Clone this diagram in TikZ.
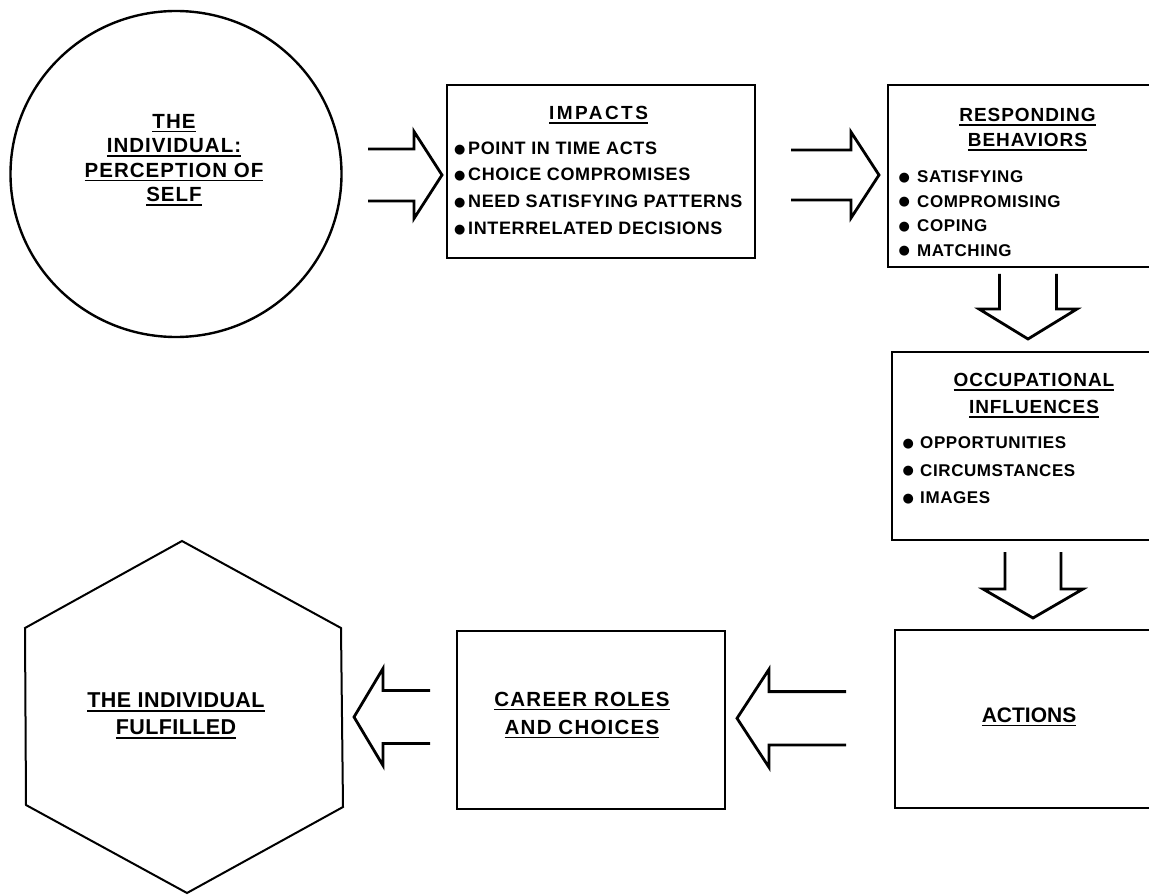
\documentclass[tikz,border=0pt]{standalone}
\usepackage{fontspec}
\setmainfont{Liberation Sans}
\newfontfamily\titlefont[LetterSpace=5]{Liberation Sans}
\newfontfamily\impfont[LetterSpace=13]{Liberation Sans}
\newfontfamily\itemfont[LetterSpace=3.5]{Liberation Sans}
\newfontfamily\circfont[LetterSpace=5]{Liberation Sans}
\newfontfamily\carfont[LetterSpace=6]{Liberation Sans}
\newfontfamily\hexfont[LetterSpace=2]{Liberation Sans}
\newfontfamily\bulfont{DejaVu Sans}
\usetikzlibrary{calc,shapes.geometric}
\newcommand\ulin[1]{\vtop{\hbox{#1}\kern2.5pt\hrule height 1.5pt}}
\newcommand\bul[1]{\makebox[#1][l]{\raisebox{1.2pt}{\bulfont\fontsize{13}{13}\selectfont ●}}}
\newcommand\fatarrow[6]{%
  \begin{scope}[shift={(#1)},rotate=#2]
    \draw[arrowline] (-#3,-#5) -- (-#4,-#5) -- (-#4,-#6) -- (0,0) -- (-#4,#6) -- (-#4,#5) -- (-#3,#5);
  \end{scope}}
\tikzset{
  boxnode/.style={draw, line width=2pt, inner sep=0pt},
  arrowline/.style={line width=2.8pt, line join=miter},
  titletext/.style={inner sep=0pt, align=center, font=\titlefont\bfseries\fontsize{19}{25}\selectfont},
  itemtext/.style={inner sep=0pt, align=left, anchor=north west},
}
\begin{document}
\begin{tikzpicture}[x=1pt,y=-1pt]
\useasboundingbox (0,0) rectangle (1149,896);
\clip (0,0) rectangle (1149,896);
% circle
\node[draw, line width=2.4pt, ellipse, minimum width=331, minimum height=326, inner sep=0pt] (self) at (176,174) {};
\node[inner sep=0pt, align=center, font=\circfont\bfseries\fontsize{20.5}{24.5}\selectfont] (selft) at (174,160)
  {\ulin{THE}\\\ulin{INDIVIDUAL:}\\\ulin{PERCEPTION OF}\\\ulin{SELF}};
% boxes
\node[boxnode, minimum width=308, minimum height=173] (imp) at (601,171.5) {};
\node[boxnode, minimum width=272, minimum height=182] (resp) at (1024,176) {};
\node[boxnode, minimum width=268, minimum height=188] (occ) at (1026,446) {};
\node[boxnode, minimum width=265, minimum height=178] (act) at (1027.5,719) {};
\node[boxnode, minimum width=268, minimum height=178] (car) at (591,720) {};
% hexagon
\draw[line width=2pt, line join=miter] (182,541) -- (341,628) -- (343,807) -- (187,893) -- (26,805) -- (25,628) -- cycle;
\coordinate (hexE) at (342.5,717);
% texts
\node[titletext, font=\impfont\bfseries\fontsize{19}{25}\selectfont] (impt) at (598.5,115) {\ulin{IMPACTS}};
\node[itemtext, font=\itemfont\bfseries\fontsize{18}{26.7}\selectfont] (impi) at (454,141.5)
  {\bul{14pt}POINT IN TIME ACTS\\\bul{14pt}CHOICE COMPROMISES\\\bul{14pt}NEED SATISFYING PATTERNS\\\bul{14pt}INTERRELATED DECISIONS};
\node[titletext] (respt) at (1027.5,129.5) {\ulin{RESPONDING}\\\ulin{BEHAVIORS}};
\node[itemtext, font=\itemfont\bfseries\fontsize{17}{24.5}\selectfont] (respi) at (898.5,170.5)
  {\bul{18.5pt}SATISFYING\\\bul{18.5pt}COMPROMISING\\\bul{18.5pt}COPING\\\bul{18.5pt}MATCHING};
\node[titletext, font=\titlefont\bfseries\fontsize{19}{27}\selectfont] (occt) at (1034,395.5) {\ulin{OCCUPATIONAL}\\\ulin{INFLUENCES}};
\node[itemtext, font=\itemfont\bfseries\fontsize{17}{27.5}\selectfont] (occi) at (902.5,436.5)
  {\bul{17.5pt}OPPORTUNITIES\\\bul{17.5pt}CIRCUMSTANCES\\\bul{17.5pt}IMAGES};
\node[inner sep=0pt, font=\bfseries\fontsize{21}{28}\selectfont] (actt) at (1029,717) {\ulin{ACTIONS}};
\node[inner sep=0pt, align=center, font=\carfont\bfseries\fontsize{20.5}{28}\selectfont] (cart) at (582,715) {\ulin{CAREER ROLES}\\\ulin{AND CHOICES}};
\node[inner sep=0pt, align=center, font=\hexfont\bfseries\fontsize{21.5}{27}\selectfont] (hext) at (176,715.5) {\ulin{THE INDIVIDUAL}\\\ulin{FULFILLED}};
% arrows
\fatarrow{$(imp.west)+(-4,3.5)$}{0}{74}{28}{26}{43.5}
\fatarrow{$(resp.west)+(-8,-1)$}{0}{88}{28}{25}{43}
\fatarrow{$(occ.north)+(2,-12)$}{-90}{65}{30}{28.5}{49}
\fatarrow{$(act.north)+(5.5,-11)$}{-90}{66}{29}{28}{50}
\fatarrow{$(car.east)+(11,-1.7)$}{180}{109}{32}{26.7}{49}
\fatarrow{$(hexE)+(11.5,0)$}{180}{76}{29}{26.5}{48.5}
\end{tikzpicture}
\end{document}
